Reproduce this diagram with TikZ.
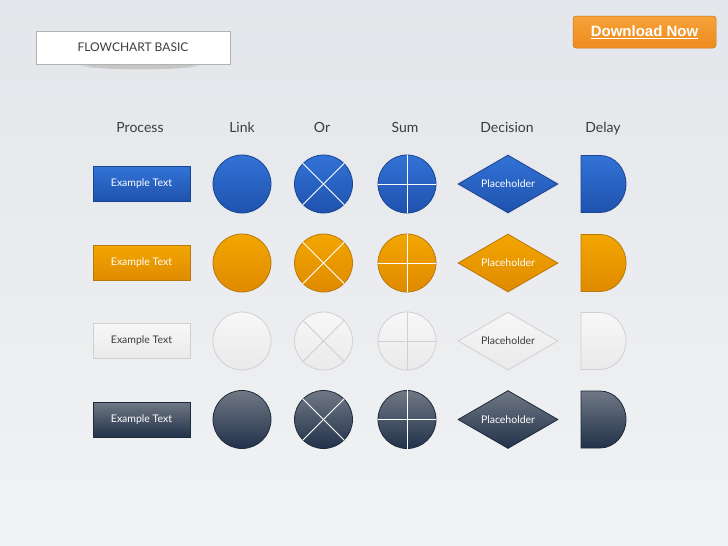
\documentclass[tikz,border=0pt]{standalone}
\usepackage{fontspec}
\setmainfont{Lato}
\newfontfamily\btnfont{Liberation Sans}
\usetikzlibrary{shapes.geometric,fadings}

\definecolor{bgtop}{HTML}{E3E6EA}
\definecolor{bgbot}{HTML}{F1F2F4}
\definecolor{headgray}{HTML}{3C3C3C}
\definecolor{bluetop}{HTML}{3273D6}
\definecolor{bluebot}{HTML}{1F52AE}
\definecolor{blueline}{HTML}{1A4590}
\definecolor{orangetop}{HTML}{F2A600}
\definecolor{orangebot}{HTML}{E08A00}
\definecolor{orangeline}{HTML}{B87A0A}
\definecolor{lighttop}{HTML}{F7F7F7}
\definecolor{lightbot}{HTML}{EAEAEA}
\definecolor{lightline}{HTML}{D0D0D0}
\definecolor{darktop}{HTML}{707884}
\definecolor{darkbot}{HTML}{22324A}
\definecolor{darkline}{HTML}{1E2A3A}
\definecolor{btntop}{HTML}{F6A33A}
\definecolor{btnbot}{HTML}{EE8B1E}

\tikzset{
  colhead/.style={anchor=base, font=\fontsize{14}{16}\selectfont, text=headgray},
  procbox/.style={rectangle, minimum width=97pt, minimum height=35pt, line width=0.8pt,
    font=\fontsize{10.5}{12}\selectfont},
  roundbox/.style={circle, minimum size=58pt, inner sep=0pt, line width=0.8pt},
  decisbox/.style={diamond, shape aspect=1.72, minimum width=100pt, minimum height=58pt, inner sep=0pt,
    line width=0.8pt, font=\fontsize{10.5}{12}\selectfont},
  bluefill/.style={top color=bluetop, bottom color=bluebot, draw=blueline, text=white},
  orangefill/.style={top color=orangetop, bottom color=orangebot, draw=orangeline, text=white},
  lightfill/.style={top color=lighttop, bottom color=lightbot, draw=lightline, text=headgray},
  darkfill/.style={top color=darktop, bottom color=darkbot, draw=darkline, text=white},
  crossline/.style={white, line width=0.9pt},
  lightcross/.style={lightline, line width=0.9pt}
}

\begin{document}
\begin{tikzpicture}[x=1pt,y=-1pt]
\useasboundingbox (0,0) rectangle (728,546);
\shade[top color=bgtop, bottom color=bgbot] (0,0) rectangle (728,546);

% title box and button
\fill[black!22, path fading=circle with fuzzy edge 20 percent] (140,65) ellipse [x radius=62, y radius=4.5];
\path (133,47.5) node (title) [rectangle, minimum width=194pt, minimum height=33pt,
  fill=white, draw=black!30, line width=0.6pt, font=\fontsize{12}{14}\selectfont, text=headgray]
  {FLOWCHART BASIC};
\path (644.5,32) node (btn) [rectangle, rounded corners=3pt, minimum width=143pt, minimum height=32pt,
  top color=btntop, bottom color=btnbot, draw=btnbot!85!black, line width=0.5pt, text=white,
  font=\btnfont\bfseries\fontsize{15}{17}\selectfont] {\underline{Download Now}};

% column heads
\path (140,132) node (hProc) [colhead] {Process};
\path (242,132) node (hLink) [colhead] {Link};
\path (322,132) node (hOr) [colhead] {Or};
\path (405,132) node (hSum) [colhead] {Sum};
\path (507,132) node (hDec) [colhead] {Decision};
\path (603,132) node (hDel) [colhead] {Delay};

% blue row
\path (141.5,184) node (P1) [procbox, bluefill] {Example Text};
\path (242,184) node (L1) [roundbox, bluefill] {};
\path (323.5,184) node (O1) [roundbox, bluefill] {};
\path (407,184) node (S1) [roundbox, bluefill] {};
\path (508,184) node (D1) [decisbox, bluefill] {Placeholder};
\draw[crossline] (O1.north east) -- (O1.south west);
\draw[crossline] (O1.north west) -- (O1.south east);
\draw[crossline] (S1.north) -- (S1.south);
\draw[crossline] (S1.west) -- (S1.east);
\draw[bluefill, line width=0.8pt] (581,155.5) -- (600,155.5)
  arc[start angle=-90, end angle=90, x radius=26, y radius=28.5] -- (581,212.5) -- cycle;

% orange row
\path (141.5,263) node (P2) [procbox, orangefill] {Example Text};
\path (242,263) node (L2) [roundbox, orangefill] {};
\path (323.5,263) node (O2) [roundbox, orangefill] {};
\path (407,263) node (S2) [roundbox, orangefill] {};
\path (508,263) node (D2) [decisbox, orangefill] {Placeholder};
\draw[crossline] (O2.north east) -- (O2.south west);
\draw[crossline] (O2.north west) -- (O2.south east);
\draw[crossline] (S2.north) -- (S2.south);
\draw[crossline] (S2.west) -- (S2.east);
\draw[orangefill, line width=0.8pt] (581,234.5) -- (600,234.5)
  arc[start angle=-90, end angle=90, x radius=26, y radius=28.5] -- (581,291.5) -- cycle;

% light row
\path (141.5,341) node (P3) [procbox, lightfill] {Example Text};
\path (242,341) node (L3) [roundbox, lightfill] {};
\path (323.5,341) node (O3) [roundbox, lightfill] {};
\path (407,341) node (S3) [roundbox, lightfill] {};
\path (508,341) node (D3) [decisbox, lightfill] {Placeholder};
\draw[lightcross] (O3.north east) -- (O3.south west);
\draw[lightcross] (O3.north west) -- (O3.south east);
\draw[lightcross] (S3.north) -- (S3.south);
\draw[lightcross] (S3.west) -- (S3.east);
\draw[lightfill, line width=0.8pt] (581,312.5) -- (600,312.5)
  arc[start angle=-90, end angle=90, x radius=26, y radius=28.5] -- (581,369.5) -- cycle;

% dark row
\path (141.5,419.5) node (P4) [procbox, darkfill] {Example Text};
\path (242,419.5) node (L4) [roundbox, darkfill] {};
\path (323.5,419.5) node (O4) [roundbox, darkfill] {};
\path (407,419.5) node (S4) [roundbox, darkfill] {};
\path (508,419.5) node (D4) [decisbox, darkfill] {Placeholder};
\draw[crossline] (O4.north east) -- (O4.south west);
\draw[crossline] (O4.north west) -- (O4.south east);
\draw[crossline] (S4.north) -- (S4.south);
\draw[crossline] (S4.west) -- (S4.east);
\draw[darkfill, line width=0.8pt] (581,391) -- (600,391)
  arc[start angle=-90, end angle=90, x radius=26, y radius=28.5] -- (581,448) -- cycle;

\end{tikzpicture}
\end{document}
